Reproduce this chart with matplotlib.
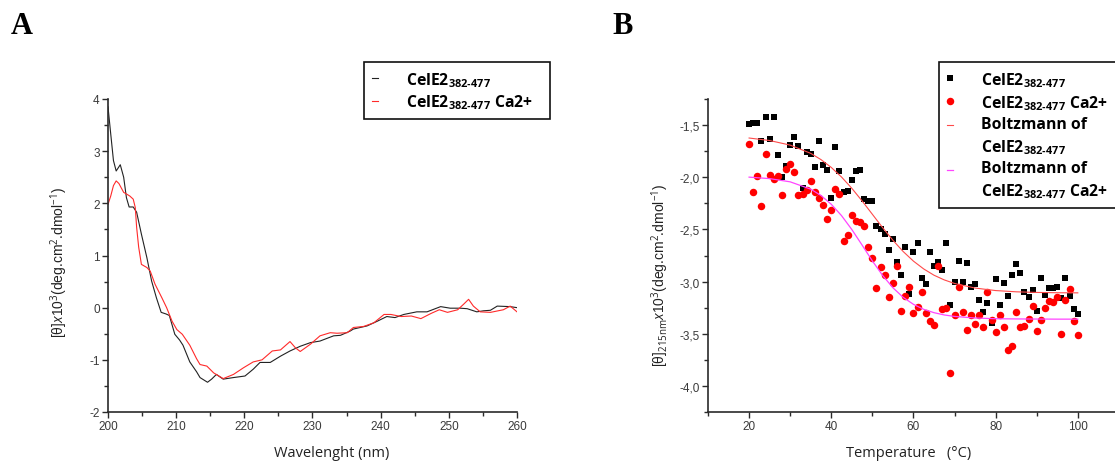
import matplotlib
matplotlib.use("Agg")
import matplotlib.pyplot as plt
import numpy as np
from matplotlib.ticker import MultipleLocator, FuncFormatter, FixedLocator
from matplotlib.legend_handler import HandlerLine2D
from matplotlib.lines import Line2D

plt.rcParams['axes.unicode_minus'] = False
plt.rcParams['mathtext.fontset'] = 'custom'
plt.rcParams['mathtext.rm'] = 'Open Sans'
plt.rcParams['mathtext.it'] = 'Open Sans:italic'
plt.rcParams['mathtext.bf'] = 'Open Sans:bold'

# ---------------- Panel A data (CD spectra) ----------------
wl_apo = [200.0, 200.4, 200.8, 201.2, 201.8, 202.3, 202.7, 203.1, 203.7, 204.2, 204.9, 205.7,
          206.4, 207.1, 207.8, 208.5, 209.0, 209.8, 210.5, 211.0, 212.0, 213.0, 213.5, 214.6,
          215.2, 215.9, 216.9, 218.4, 220.1, 221.3, 222.3, 223.8, 225.3, 226.7, 228.2, 229.7,
          231.1, 233.1, 234.1, 235.5, 236.0, 238.0, 239.5, 240.9, 242.1, 243.4, 245.3, 246.8,
          248.8, 250.2, 251.7, 252.7, 254.1, 255.1, 256.1, 257.1, 259.0, 260.0]
cd_apo = [3.85, 3.33, 2.82, 2.62, 2.74, 2.50, 2.11, 1.93, 1.93, 1.83, 1.41, 0.96,
          0.51, 0.19, -0.09, -0.12, -0.15, -0.51, -0.62, -0.72, -1.04, -1.23, -1.34, -1.43,
          -1.37, -1.28, -1.37, -1.34, -1.31, -1.18, -1.05, -1.05, -0.93, -0.83, -0.74, -0.67,
          -0.64, -0.54, -0.53, -0.45, -0.41, -0.35, -0.26, -0.17, -0.19, -0.13, -0.08, -0.08,
          0.02, -0.01, -0.01, -0.02, -0.08, -0.06, -0.05, 0.03, 0.02, 0.00]

wl_ca = [200.0, 200.4, 200.8, 201.2, 201.6, 202.3, 202.7, 203.2, 203.7, 204.0, 204.2, 204.5,
         204.9, 205.7, 206.2, 206.9, 207.9, 208.6, 209.4, 210.1, 210.9, 212.0, 213.0, 213.5,
         214.5, 215.5, 216.9, 218.4, 219.9, 221.3, 222.6, 224.1, 225.3, 226.7, 227.5, 228.2,
         229.7, 231.1, 232.6, 233.6, 235.1, 236.0, 237.5, 239.0, 240.5, 241.5, 243.0, 244.5,
         245.9, 247.4, 248.6, 249.8, 251.3, 252.2, 252.9, 253.6, 254.6, 256.1, 258.0, 259.0, 260.0]
cd_ca = [1.98, 2.14, 2.34, 2.43, 2.38, 2.21, 2.18, 2.14, 2.08, 1.92, 1.54, 1.16,
         0.83, 0.77, 0.70, 0.45, 0.19, 0.00, -0.26, -0.42, -0.51, -0.72, -0.98, -1.09,
         -1.12, -1.25, -1.36, -1.28, -1.15, -1.04, -1.00, -0.83, -0.81, -0.65, -0.77, -0.84,
         -0.70, -0.54, -0.48, -0.49, -0.48, -0.38, -0.36, -0.29, -0.13, -0.13, -0.17, -0.16,
         -0.21, -0.11, -0.04, -0.09, -0.04, 0.07, 0.16, 0.03, -0.08, -0.09, -0.04, 0.03, -0.08]

# ---------------- Panel B data (thermal denaturation) ----------------
temp = list(range(20, 101))
theta_apo = [-1.49, -1.48, -1.48, -1.65, -1.42, -1.63, -1.42, -1.79, -2.00, -1.89,
             -1.69, -1.61, -1.70, -2.10, -1.76, -1.78, -1.90, -1.65, -1.88, -1.93,
             -2.20, -1.71, -1.94, -2.14, -2.13, -2.03, -1.94, -1.93, -2.21, -2.23,
             -2.23, -2.47, -2.50, -2.54, -2.70, -2.59, -2.81, -2.94, -2.67, -3.12,
             -2.72, -2.63, -2.97, -3.02, -2.72, -2.85, -2.81, -2.89, -2.63, -3.22,
             -3.00, -2.80, -3.00, -2.82, -3.05, -3.02, -3.18, -3.29, -3.21, -3.40,
             -2.98, -3.22, -3.01, -3.14, -2.94, -2.83, -2.92, -3.10, -3.15, -3.08,
             -3.28, -2.97, -3.13, -3.06, -3.06, -3.05, -3.16, -2.97, -3.14, -3.26,
             -3.31]
theta_ca = [-1.68, -2.14, -1.99, -2.28, -1.78, -1.98, -2.02, -1.99, -2.17, -1.92,
            -1.87, -1.95, -2.17, -2.16, -2.12, -2.04, -2.14, -2.20, -2.27, -2.40,
            -2.31, -2.11, -2.16, -2.61, -2.55, -2.36, -2.42, -2.43, -2.47, -2.67,
            -2.77, -3.06, -2.86, -2.94, -3.15, -3.01, -2.85, -3.28, -3.14, -3.05,
            -3.30, -3.24, -3.10, -3.30, -3.38, -3.42, -2.85, -3.26, -3.25, -3.88,
            -3.32, -3.05, -3.29, -3.46, -3.32, -3.41, -3.32, -3.44, -3.10, -3.37,
            -3.48, -3.32, -3.44, -3.66, -3.62, -3.29, -3.44, -3.43, -3.36, -3.23,
            -3.47, -3.37, -3.25, -3.19, -3.20, -3.15, -3.50, -3.18, -3.07, -3.38,
            -3.51]

# Boltzmann fit curves
fit_temp = [20, 25, 30, 35, 37.5, 40, 42.5, 45, 47.5, 50, 52.5, 55, 57.5, 60, 62.5, 65,
            67.5, 70, 75, 80, 85, 90, 95, 100]
fit_apo = [-1.624, -1.648, -1.692, -1.771, -1.831, -1.906, -1.998, -2.106, -2.227, -2.355,
           -2.483, -2.604, -2.712, -2.804, -2.879, -2.939, -2.984, -3.018, -3.062, -3.086,
           -3.098, -3.104, -3.107, -3.108]
fit_ca = [-1.999, -2.013, -2.044, -2.114, -2.175, -2.259, -2.368, -2.501, -2.650, -2.802,
          -2.941, -3.059, -3.151, -3.218, -3.266, -3.298, -3.320, -3.334, -3.349, -3.356,
          -3.358, -3.359, -3.360, -3.360]

tempB_ticks = [20, 40, 60, 80, 100]

lab_apo = "CelE2$_{\\mathbf{382\u2010477}}$"
lab_ca = "CelE2$_{\\mathbf{382\u2010477}}$ Ca2+"
lab_fit_apo = "Boltzmann of\nCelE2$_{\\mathbf{382\u2010477}}$"
lab_fit_ca = "Boltzmann of\nCelE2$_{\\mathbf{382\u2010477}}$ Ca2+"

W, H = 1115, 464
fig = plt.figure(figsize=(W / 100, H / 100), dpi=100)

SP = '#2a2a2a'
TICK_C = '#3a3a3a'


def style_axes(ax):
    for s in ('top', 'right'):
        ax.spines[s].set_visible(False)
    for s in ('left', 'bottom'):
        ax.spines[s].set_linewidth(1.2)
        ax.spines[s].set_color(SP)
    ax.tick_params(which='major', direction='out', length=4, width=1.0, color=SP,
                   labelsize=8.5, labelcolor=TICK_C, pad=2)
    ax.tick_params(which='minor', direction='out', length=3, width=1.0, color=SP)
    for lbl in ax.get_xticklabels() + ax.get_yticklabels():
        lbl.set_fontfamily('Liberation Sans')


# ---------------- Panel A ----------------
axA = fig.add_axes([108 / W, 1 - 413 / H, (517 - 108) / W, 313 / H])
lA1, = axA.plot(wl_apo, cd_apo, color='#222222', lw=0.8)
lA2, = axA.plot(wl_ca, cd_ca, color='#ff2a2a', lw=0.8)
axA.set_xlim(200, 260)
axA.set_ylim(-2, 4)
axA.xaxis.set_major_locator(MultipleLocator(10))
axA.xaxis.set_minor_locator(MultipleLocator(5))
axA.yaxis.set_major_locator(MultipleLocator(1))
axA.yaxis.set_minor_locator(MultipleLocator(0.5))
style_axes(axA)
axA.set_xlabel("Wavelenght (nm)", fontsize=10.5, family='Open Sans', color='#222')
axA.xaxis.set_label_coords((332 - 108) / 409, -(446 - 413) / 313)
axA.set_ylabel("[\u03b8]$\\mathit{x}$10$^{3}$(deg.cm$^{2}$.dmol$^{-1}$)", fontsize=10,
               family='Liberation Sans', color='#222')
axA.yaxis.set_label_coords((70 - 108) / 409, (413 - 262) / 313)

legprop = dict(family='Open Sans', weight='bold', size=11.3)
legA = axA.legend([lA1, lA2], [lab_apo, lab_ca], loc='upper left',
                  bbox_to_anchor=(364 / W, 0, (550 - 364) / W, 1 - 63 / H),
                  bbox_transform=fig.transFigure, mode='expand',
                  frameon=True, fancybox=False, edgecolor='#111', framealpha=1,
                  prop=legprop, handlelength=0.4, handletextpad=1.8, borderpad=0.5,
                  labelspacing=0.25, borderaxespad=0)
legA.get_frame().set_linewidth(1.2)

# ---------------- Panel B ----------------
axB = fig.add_axes([708 / W, 1 - 413 / H, (1160 - 708) / W, 313 / H])
pB1, = axB.plot(temp, theta_apo, 's', color='black', ms=4.9, mew=0, ls='none')
pB2, = axB.plot(temp, theta_ca, 'o', color='#ff0000', ms=5.4, mew=0, ls='none')
fB1, = axB.plot(fit_temp, fit_apo, color='#ff4a4a', lw=0.8)
fB2, = axB.plot(fit_temp, fit_ca, color='#ff44ff', lw=0.9)
axB.set_xlim(10, 120)
axB.set_ylim(-4.25, -1.25)
axB.xaxis.set_major_locator(FixedLocator(tempB_ticks))
axB.xaxis.set_minor_locator(MultipleLocator(10))
axB.yaxis.set_major_locator(MultipleLocator(0.5))
axB.yaxis.set_minor_locator(MultipleLocator(0.25))
axB.yaxis.set_major_formatter(FuncFormatter(lambda v, p: f"{v:.1f}".replace('.', ',')))
style_axes(axB)
axB.set_xlabel("Temperature   (\u00b0C)", fontsize=10.5, family='Open Sans', color='#222')
axB.xaxis.set_label_coords((909 - 708) / 452, -(446 - 413) / 313)
axB.set_ylabel("[\u03b8]$_{\\mathrm{215nm}}$$\\mathit{x}$10$^{3}$(deg.cm$^{2}$.dmol$^{-1}$)",
               fontsize=10, family='Liberation Sans', color='#222')
axB.yaxis.set_label_coords((671 - 708) / 452, (413 - 275) / 313)


class FirstLineHandler(HandlerLine2D):
    def __init__(self, shift=0.0, **kw):
        super().__init__(**kw)
        self.shift = shift

    def create_artists(self, legend, orig_handle, xdescent, ydescent, width, height,
                       fontsize, trans):
        arts = super().create_artists(legend, orig_handle, xdescent, ydescent, width,
                                      height, fontsize, trans)
        for a in arts:
            if isinstance(a, Line2D):
                a.set_ydata(np.asarray(a.get_ydata()) + self.shift)
        return arts


legB = axB.legend([pB1, pB2, fB1, fB2], [lab_apo, lab_ca, lab_fit_apo, lab_fit_ca],
                  loc='upper left', bbox_to_anchor=(939 / W, 0, (1140 - 939) / W, 1 - 63 / H),
                  bbox_transform=fig.transFigure, mode='expand', frameon=True,
                  fancybox=False, edgecolor='#111', framealpha=1, prop=legprop,
                  handlelength=0.4, handletextpad=1.8, borderpad=0.5, labelspacing=0.28,
                  borderaxespad=0, numpoints=1,
                  handler_map={fB1: FirstLineHandler(shift=8.0),
                               fB2: FirstLineHandler(shift=8.0)})
for t in legB.get_texts():
    t.set_linespacing(1.38)
legB.get_frame().set_linewidth(1.2)

# panel letters
fig.text(22 / W, 1 - 26 / H, "A", fontsize=22, fontweight='bold', family='Liberation Serif',
         ha='center', va='center')
fig.text(623 / W, 1 - 26 / H, "B", fontsize=22, fontweight='bold', family='Liberation Serif',
         ha='center', va='center')

fig.savefig("out.png", dpi=100)
